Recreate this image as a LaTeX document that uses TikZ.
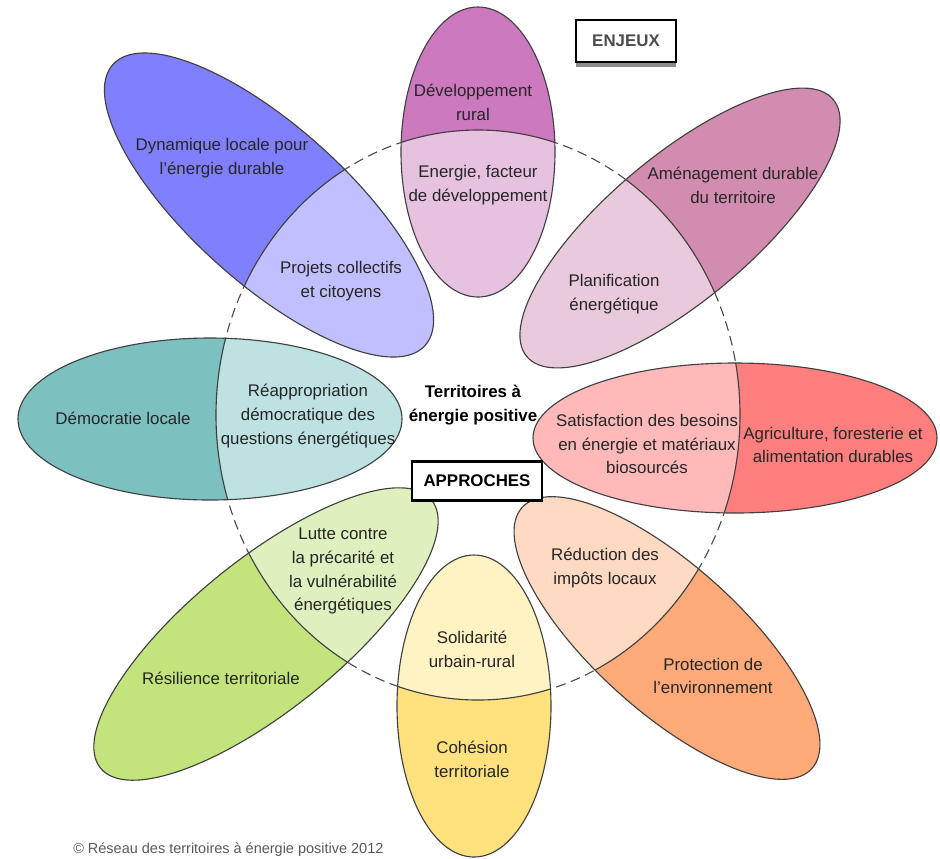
\documentclass[tikz,border=0pt]{standalone}
\usepackage{fontspec}
\setmainfont{Liberation Sans}
\usepackage{tikz}
\usetikzlibrary{shadows}
\definecolor{nordark}{HTML}{CC79BF}
\definecolor{norlight}{HTML}{E6C2E0}
\definecolor{nedark}{HTML}{D28CAF}
\definecolor{nelight}{HTML}{E9C9DC}
\definecolor{estdark}{HTML}{FF7F7F}
\definecolor{estlight}{HTML}{FFB9B9}
\definecolor{sedark}{HTML}{FFAA78}
\definecolor{selight}{HTML}{FFDAC3}
\definecolor{suddark}{HTML}{FFE17D}
\definecolor{sudlight}{HTML}{FFF2C3}
\definecolor{swdark}{HTML}{C3E47D}
\definecolor{swlight}{HTML}{DEF0BE}
\definecolor{ouestdark}{HTML}{7DC0C0}
\definecolor{ouestlight}{HTML}{BEE1E1}
\definecolor{nwdark}{HTML}{8080FF}
\definecolor{nwlight}{HTML}{C0C0FF}
\newcommand{\drawpetal}[6]{%
	\fill[#5, rotate around={#4:(#1)}] (#1) ellipse [x radius=#2, y radius=#3];
	\begin{scope}
		\clip[rotate around={#4:(#1)}] (#1) ellipse [x radius=#2, y radius=#3];
		\fill[#6, even odd rule] (-10,-10) rectangle (950,870) (478,415) ellipse [x radius=262, y radius=285];
		\draw[petalborder] (478,415) ellipse [x radius=262, y radius=285];
	\end{scope}
	\draw[petalborder, rotate around={#4:(#1)}] (#1) ellipse [x radius=#2, y radius=#3];
}

\begin{document}
\begin{tikzpicture}[x=0.025cm, y=-0.025cm, petalborder/.style={draw=black!75, line width=0.8pt}, txt/.style={align=center, inner sep=0pt, text=black!85, font=\fontsize{12}{17}\selectfont}, titlebox/.style={draw=black, fill=white, inner sep=0pt, font=\fontsize{12}{14}\selectfont\bfseries}]
		\useasboundingbox (0,0) rectangle (940,858);
		\draw[black!70, line width=0.8pt, dash pattern=on 7pt off 4pt] (478,415) ellipse [x radius=262, y radius=285];
		
		\drawpetal{478,152}{77}{145}{0}{norlight}{nordark}
		\drawpetal{680,228}{200}{72}{40}{nelight}{nedark}
		\drawpetal{735,438}{202}{75}{0}{estlight}{estdark}
		\drawpetal{667,638}{195}{73}{-42}{selight}{sedark}
		\drawpetal{474,706}{77}{151}{0}{sudlight}{suddark}
		\drawpetal{266,634}{213}{75}{39}{swlight}{swdark}
		\drawpetal{210,419}{192}{81}{0}{ouestlight}{ouestdark}
		\drawpetal{269,205}{210}{78}{-42}{nwlight}{nwdark}
		
		\node[txt](outer0) at (473,102) {Développement\\rural};
		\node[txt](inner0) at (478,185) {Energie, facteur\\de développement};
		\node[txt](outer1) at (733,185) {Aménagement durable\\du territoire};
		\node[txt](inner1) at (614,294) {Planification\\énergétique};
		\node[txt](outer2) at (833,445) {Agriculture, foresterie et\\alimentation durables};
		\node[txt](inner2) at (647,444) {Satisfaction des besoins\\en énergie et matériaux\\biosourcés};
		\node[txt](outer3) at (713,676) {Protection de\\l'environnement};
		\node[txt](inner3) at (605,568) {Réduction des\\impôts locaux};
		\node[txt](outer4) at (472,759) {Cohésion\\territoriale};
		\node[txt](inner4) at (472,649) {Solidarité\\urbain-rural};
		\node[txt](outer5) at (221,678) {Résilience territoriale};
		\node[txt](inner5) at (343,571) {Lutte contre\\la précarité et\\la vulnérabilité\\énergétiques};
		\node[txt](outer6) at (123,418) {Démocratie locale};
		\node[txt](inner6) at (308,416) {Réappropriation\\démocratique des\\questions énergétiques};
		\node[txt](outer7) at (222,158) {Dynamique locale pour\\l'énergie durable};
		\node[txt](inner7) at (341,281) {Projets collectifs\\et citoyens};
		
		\node[txt, text=black, font=\fontsize{12}{17}\selectfont\bfseries](title0) at (473,405) {Territoires à\\énergie positive};
		\node[titlebox, line width=1.5pt, text=black!70, minimum width=2.5cm, minimum height=1.05cm, drop shadow={shadow xshift=0pt, shadow yshift=-3.5pt, fill=black!45, opacity=1}](box0) at (626,41) {ENJEUX};
		\node[titlebox, line width=2pt, text=black, minimum width=3.25cm, minimum height=0.98cm](box1) at (477,481) {APPROCHES};
		\node[anchor=west, inner sep=0pt, text=black!65, font=\fontsize{10.3}{12}\selectfont](source0) at (73,850) {© Réseau des territoires à énergie positive 2012};
		\end{tikzpicture}
\end{document}
